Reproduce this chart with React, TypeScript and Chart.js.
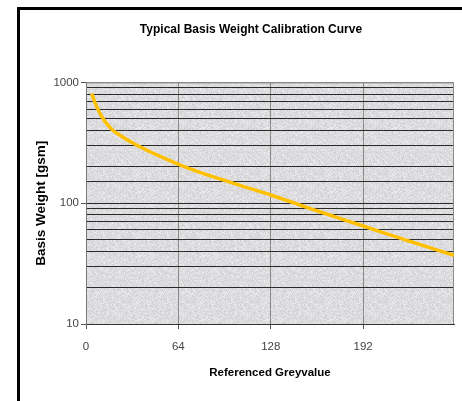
import React, { useEffect, useRef } from 'react';
import { Chart, registerables } from 'chart.js';

Chart.register(...registerables);

// Data
const greyValues = [4, 6, 9, 13, 18, 24, 34, 44, 51, 65, 79, 104, 128, 162, 190, 224, 255];
const basisWeights = [810, 690, 575, 478, 408, 362, 308, 268, 245, 208, 180, 144, 117, 85, 66, 48.5, 37];
const xTickValues = [0, 64, 128, 192];
const yLabelValues = [10, 100, 1000];

const chartTitle = 'Typical Basis Weight Calibration Curve';
const xTitle = 'Referenced Greyvalue';
const yTitle = 'Basis Weight [gsm]';

const FONT = "'Liberation Sans', Arial, sans-serif";

// Granite-like texture (deterministic hash, decoration only)
function makeTexture(): HTMLCanvasElement {
  const c = document.createElement('canvas');
  c.width = 64;
  c.height = 64;
  const g = c.getContext('2d')!;
  const img = g.createImageData(64, 64);
  for (let y = 0; y < 64; y++) {
    for (let x = 0; x < 64; x++) {
      let h = (x * 374761393 + y * 668265263) | 0;
      h = Math.imul(h ^ (h >>> 13), 1274126177);
      h = (h ^ (h >>> 16)) >>> 0;
      const n = (h % 1000) / 1000;
      const v = Math.round(n > 0.9 ? 238 : 208 + n * 24);
      const i = (y * 64 + x) * 4;
      img.data[i] = v;
      img.data[i + 1] = v;
      img.data[i + 2] = v + 2;
      img.data[i + 3] = 255;
    }
  }
  g.putImageData(img, 0, 0);
  return c;
}

const framePlugin = {
  id: 'frame',
  beforeDraw(chart: any) {
    const { ctx, chartArea: a, width, height } = chart;
    ctx.save();
    ctx.fillStyle = '#ffffff';
    ctx.fillRect(0, 0, width, height);
    const pat = ctx.createPattern(makeTexture(), 'repeat');
    ctx.fillStyle = pat || '#d9d9d9';
    ctx.fillRect(a.left, a.top, a.right - a.left, a.bottom - a.top);
    ctx.strokeStyle = '#000000';
    ctx.lineWidth = 3;
    ctx.strokeRect(18.5, 8.5, 466, 404);
    ctx.restore();
  },
  beforeDatasetsDraw(chart: any) {
    const { ctx, chartArea: a } = chart;
    ctx.save();
    ctx.strokeStyle = '#8a8a8a';
    ctx.lineWidth = 1;
    ctx.beginPath();
    ctx.moveTo(a.left, a.top + 0.5);
    ctx.lineTo(a.right - 0.5, a.top + 0.5);
    ctx.lineTo(a.right - 0.5, a.bottom);
    ctx.stroke();
    ctx.restore();
  },
};

export default function App() {
  const ref = useRef<HTMLCanvasElement | null>(null);

  useEffect(() => {
    if (!ref.current) return;
    const chart = new Chart(ref.current, {
      type: 'line',
      data: {
        datasets: [
          {
            data: greyValues.map((x, i) => ({ x, y: basisWeights[i] })),
            borderColor: '#FFC000',
            borderWidth: 3.5,
            pointRadius: 0,
            cubicInterpolationMode: 'monotone',
            fill: false,
          },
        ],
      },
      options: {
        responsive: false,
        animation: false,
        layout: { padding: { left: 48, right: 36, top: 10, bottom: 19 } },
        plugins: {
          legend: { display: false },
          tooltip: { enabled: false },
          title: {
            display: true,
            text: chartTitle,
            color: '#000',
            font: { family: FONT, size: 12, weight: 'bold' },
            padding: { top: 12, bottom: 46 },
          },
        },
        scales: {
          x: {
            type: 'linear',
            min: 0,
            max: 255,
            afterFit(scale: any) {
              scale.height = 77;
            },
            afterBuildTicks(scale: any) {
              scale.ticks = xTickValues.map((v) => ({ value: v }));
            },
            ticks: {
              color: '#444',
              font: { family: FONT, size: 11.5 },
              padding: 11,
              autoSkip: false,
              maxRotation: 0,
            },
            grid: {
              color: '#8a8a8a',
              lineWidth: 1,
              tickLength: 5,
              tickColor: '#555',
            },
            border: { color: '#333', width: 1 },
            title: {
              display: true,
              text: xTitle,
              color: '#000',
              font: { family: FONT, size: 11.5, weight: 'bold' },
              padding: { top: 0, bottom: 21 },
            },
          },
          y: {
            type: 'logarithmic',
            min: 10,
            max: 1000,
            afterFit(scale: any) {
              scale.width = 38;
            },
            ticks: {
              color: '#444',
              font: { family: FONT, size: 11.5 },
              padding: 2,
              autoSkip: false,
              callback: (v: any) => (yLabelValues.includes(Number(v)) ? String(v) : ''),
            },
            grid: {
              color: (c: any) => (c.tick && c.tick.value === 1000 ? '#8a8a8a' : '#2a2a2a'),
              lineWidth: 1,
              tickLength: 5,
              tickColor: (c: any) =>
                c.tick && yLabelValues.includes(c.tick.value) ? '#555' : 'rgba(0,0,0,0)',
            },
            border: { color: '#777', width: 1 },
            title: {
              display: true,
              text: yTitle,
              color: '#000',
              font: { family: FONT, size: 13.5, weight: 'bold' },
              padding: { top: -15, bottom: 0 },
            },
          },
        },
      },
      plugins: [framePlugin],
    } as any);
    return () => chart.destroy();
  }, []);

  return (
    <div style={{ position: 'fixed', left: 0, top: 0, width: 490, height: 420 }}>
      <canvas ref={ref} width={490} height={420} style={{ width: 490, height: 420 }} />
    </div>
  );
}
